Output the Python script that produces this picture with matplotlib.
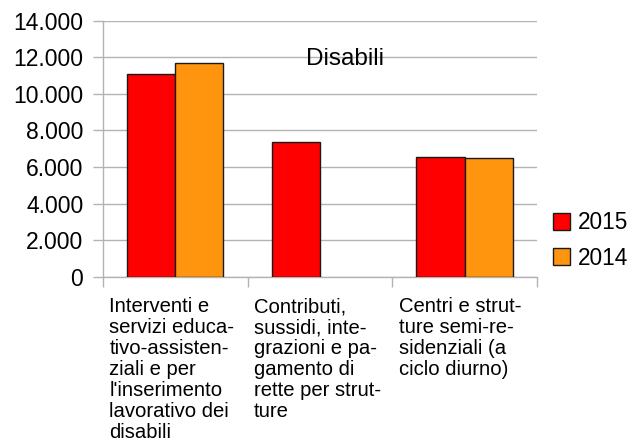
import numpy as np
import matplotlib
matplotlib.use('Agg')
import matplotlib.pyplot as plt
from matplotlib.ticker import FuncFormatter, FixedLocator
from matplotlib.transforms import blended_transform_factory

plt.rcParams['font.family'] = ['Liberation Sans', 'DejaVu Sans']

categories = [
    "Interventi e\nservizi educa-\ntivo-assisten-\nziali e per\nl'inserimento\nlavorativo dei\ndisabili",
    "Contributi,\nsussidi, inte-\ngrazioni e pa-\ngamento di\nrette per strut-\nture",
    "Centri e strut-\nture semi-re-\nsidenziali (a\nciclo diurno)",
]
series_names = ['2015', '2014']
values_2015 = [11070, 7350, 6530]
values_2014 = [11680, np.nan, 6470]
colors = ['#ff0000', '#ff950e']
title = 'Disabili'

fig = plt.figure(figsize=(6.33, 4.43), dpi=100)
ax = fig.add_axes([0.1627, 0.3754, 0.6856, 0.5779])

x = np.arange(len(categories))
w = 0.333
b1 = ax.bar(x - w / 2, values_2015, w, color=colors[0], edgecolor='#1a1a1a', linewidth=1, label=series_names[0], zorder=3)
b2 = ax.bar(x + w / 2, values_2014, w, color=colors[1], edgecolor='#1a1a1a', linewidth=1, label=series_names[1], zorder=3)

ax.set_xlim(-0.5, len(categories) - 0.5)
ax.set_ylim(0, 14000)
ax.set_yticks(np.arange(0, 14001, 2000))
ax.yaxis.set_major_formatter(FuncFormatter(lambda v, p: f"{int(v):,}".replace(',', '.')))
ax.xaxis.set_major_locator(FixedLocator(np.arange(-0.5, len(categories), 1.0)))
ax.set_xticklabels([])

ax.grid(axis='y', color='#b3b3b3', linewidth=1, zorder=0)
ax.set_axisbelow(True)
for s in ['top', 'right']:
    ax.spines[s].set_visible(False)
for s in ['left', 'bottom']:
    ax.spines[s].set_color('#b3b3b3')
    ax.spines[s].set_linewidth(1)
ax.tick_params(axis='both', colors='#b3b3b3', length=7.2, width=1)
ax.tick_params(axis='y', labelcolor='black', labelsize=16.5, pad=7)

trans = blended_transform_factory(ax.transData, ax.transAxes)
for i, lab in enumerate(categories):
    ax.text(i - 0.5 + 0.045, -0.08, lab, transform=trans, ha='left', va='top',
            fontsize=14.6, linespacing=1.13)

fig.text(345.5 / 633, 1 - 65 / 443, title, ha='center', va='baseline', fontsize=17.5)

fig.legend(handles=[b1, b2], loc='center left', bbox_to_anchor=(0.873, 0.457),
           frameon=False, fontsize=16.3, handlelength=0.77, handleheight=0.77,
           handletextpad=0.36, labelspacing=0.55, borderpad=0, borderaxespad=0)

fig.savefig('out.png', dpi=100)
